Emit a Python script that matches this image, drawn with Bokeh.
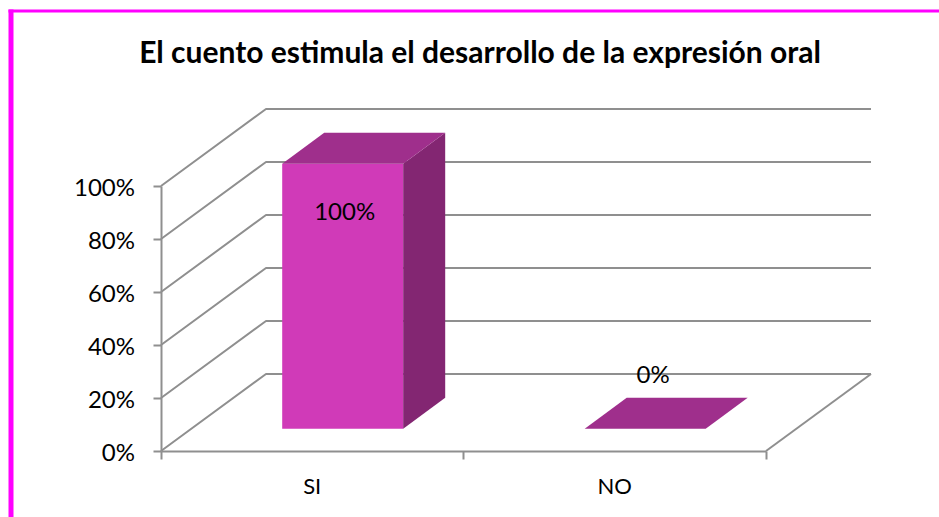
from bokeh.plotting import figure
from bokeh.models import LinearAxis, FixedTicker, Range1d, BoxAnnotation
from bokeh.embed import file_html
from bokeh.resources import INLINE
from bokeh.core.properties import value

TITLE = "El cuento estimula el desarrollo de la expresión oral"
categories = ["SI", "NO"]
values = [100, 0]
labels = ["100%", "0%"]
y_ticks = [0, 20, 40, 60, 80, 100]
y_tick_labels = ["0%", "20%", "40%", "60%", "80%", "100%"]

W, H = 939, 517
FONT = "Lato"
X0, XU = 160.5, 302.5        # canvas px of x=0, px per category
Y0, YU = 450.5, 2.65         # canvas px of y=0, px per percent
DX = 105 / XU                # wall depth, in x units
DY = 77 / YU                 # wall depth, in y units
BAR_W = 0.4
D_FRONT, D_BACK = 0.29, 0.69
GREY = "#8f8f8f"
LW = 2

def proj(x, y, d):
    return x + d * DX, y + d * DY

p = figure(width=W, height=H, output_backend="svg", toolbar_location=None,
           x_range=Range1d(-X0 / XU, (W - X0) / XU),
           y_range=Range1d(-(H - Y0) / YU, Y0 / YU),
           min_border=0, min_border_left=0, min_border_right=0,
           min_border_top=0, min_border_bottom=0,
           x_axis_type=None, y_axis_type=None, outline_line_color=None)
p.grid.visible = False

# page border
p.add_layout(BoxAnnotation(left=(8 - X0) / XU, right=(13 - X0) / XU, bottom=-(H - Y0) / YU, top=(Y0 - 9) / YU,
                           fill_color="#ff00ff", fill_alpha=1, line_color=None))
p.add_layout(BoxAnnotation(left=(8 - X0) / XU, bottom=(Y0 - 12) / YU, top=(Y0 - 9) / YU,
                           fill_color="#ff00ff", fill_alpha=1, line_color=None))

# walls and floor
xs, ys = [], []
for t in y_ticks:
    bx, by = proj(0, t, 1)
    xs.append([0, bx, bx + 2])
    ys.append([t, by, by])
p.multi_line(xs, ys, line_color=GREY, line_width=LW)
rx, ry = proj(2, 0, 1)
p.line([2, rx], [0, ry], line_color=GREY, line_width=LW)

# bars
for i, v in enumerate(values):
    l, r = i + 0.5 - BAR_W / 2, i + 0.5 + BAR_W / 2
    lf = proj(l, 0, D_FRONT); rf = proj(r, 0, D_FRONT)
    lb = proj(l, 0, D_BACK); rb = proj(r, 0, D_BACK)
    if v > 0:
        p.quad(left=lf[0], right=rf[0], bottom=lf[1], top=lf[1] + v, fill_color="#d03ab8", line_color=None)
        p.patch([rf[0], rb[0], rb[0], rf[0]], [rf[1], rb[1], rb[1] + v, rf[1] + v], fill_color="#832672", line_color=None)
    p.patch([lf[0], rf[0], rb[0], lb[0]], [lf[1] + v, rf[1] + v, rb[1] + v, lb[1] + v], fill_color="#9f2f8c", line_color=None)

# axes
ya = LinearAxis(fixed_location=0, bounds=(0, 100), ticker=FixedTicker(ticks=y_ticks),
                major_label_overrides=dict(zip(y_ticks, y_tick_labels)))
ya.major_tick_out = 8; ya.major_tick_in = 0; ya.minor_tick_out = 0; ya.minor_tick_in = 0
ya.axis_line_color = GREY; ya.axis_line_width = LW; ya.major_tick_line_color = GREY; ya.major_tick_line_width = LW
ya.major_label_text_font = FONT; ya.major_label_text_font_size = "24px"; ya.major_label_text_color = "#000000"
ya.major_label_standoff = 18
p.add_layout(ya, "left")

xa = LinearAxis(fixed_location=0, bounds=(0, 2), ticker=FixedTicker(ticks=[0.5, 1.5], minor_ticks=[0, 1, 2]),
                major_label_overrides=dict(zip([0.5, 1.5], categories)))
xa.major_tick_out = 0; xa.major_tick_in = 0; xa.minor_tick_out = 8; xa.minor_tick_in = 0
xa.axis_line_color = GREY; xa.axis_line_width = LW; xa.minor_tick_line_color = GREY; xa.minor_tick_line_width = LW
xa.major_label_text_font = FONT; xa.major_label_text_font_size = "22px"; xa.major_label_text_color = "#000000"
xa.major_label_standoff = 13
p.add_layout(xa, "below")

# data labels
lx, ly = [], []
for i, v in enumerate(values):
    fx, fy = proj(i + 0.5, v, D_FRONT)
    lx.append(fx); ly.append(fy)
p.text(lx, ly, text=labels, x_offset=[2, 8], y_offset=[47, -55], text_align="center", text_baseline="middle",
       text_font=value(FONT), text_font_size="24px", text_color="#000000")

# title
p.text([(479.5 - X0) / XU], [(Y0 - 50.5) / YU], text=[TITLE], text_align="center", text_baseline="middle",
       text_font=value(FONT), text_font_style="bold", text_font_size="30px", text_color="#000000")

open("out.html", "w").write(file_html(p, INLINE))
